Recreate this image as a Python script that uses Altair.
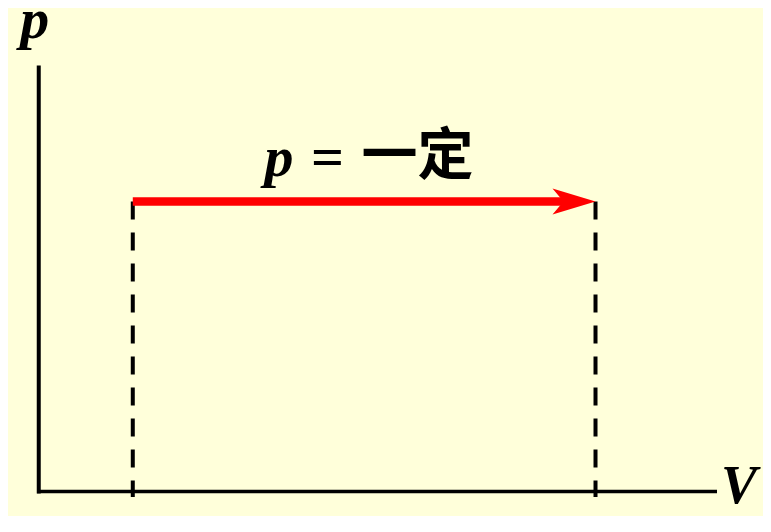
import altair as alt
import pandas as pd

# ---- values (abstract diagram units) ----
axis_x = [0.0, 10.0]          # V axis from origin to end
axis_y = [0.0, 10.0]          # p axis from origin to top
volumes = [1.39, 8.23]        # V1, V2 (dashed verticals)
pressure = [6.84]             # constant p level
dash_bottom = [-0.13]         # dashed lines run slightly past the V axis

label_text = ["p", "V"]
label_x = [-0.06, 10.085]
label_y = [10.70, -0.27]

formula_parts = ["p", "=", "一定"]
formula_x = [3.55, 4.27, 5.60]
formula_y = [7.45, 7.45, 7.49]

BG = "#FFFFDA"
W, H = 755, 508

xs = alt.Scale(domain=axis_x, range=[30.75, 707.25], nice=False, zero=False)
ys = alt.Scale(domain=axis_y, range=[483.5, 59.5], nice=False, zero=False)


def X(field="x"):
    return alt.X(f"{field}:Q", scale=xs, axis=None)


def Y(field="y"):
    return alt.Y(f"{field}:Q", scale=ys, axis=None)


# axes
y_axis_df = pd.DataFrame({"x": [axis_x[0]], "y": [axis_y[0]], "y2": [axis_y[1]]})
x_axis_df = pd.DataFrame({"x": [axis_x[0]], "x2": [axis_x[1]], "y": [axis_y[0]]})

y_axis = alt.Chart(y_axis_df).mark_rule(color="black", strokeWidth=4, strokeCap="square").encode(
    x=X(), y=Y(), y2="y2:Q"
)
x_axis = alt.Chart(x_axis_df).mark_rule(color="black", strokeWidth=3.5, strokeCap="square").encode(
    x=X(), x2="x2:Q", y=Y()
)

# dashed verticals
dash_df = pd.DataFrame({
    "x": volumes,
    "y": pressure * len(volumes),
    "y2": dash_bottom * len(volumes),
})
dashes = alt.Chart(dash_df).mark_rule(
    color="black", strokeWidth=4, strokeDash=[18, 13], strokeCap="butt"
).encode(x=X(), y=Y(), y2="y2:Q")

# red isobaric arrow
arrow_df = pd.DataFrame({"x": [volumes[0]], "x2": [volumes[1]], "y": pressure})
arrow_line = alt.Chart(arrow_df).mark_rule(
    color="#FF0000", strokeWidth=8.5, strokeCap="butt", x2Offset=-28
).encode(x=X(), x2="x2:Q", y=Y())

head_df = pd.DataFrame({"x": [volumes[1]], "y": pressure})
arrow_head = alt.Chart(head_df).mark_point(
    shape="M0,0 L-2,-0.6 L-1.49,0 L-2,0.6 Z",
    size=1849,
    filled=True,
    color="#FF0000",
    opacity=1,
    strokeWidth=0,
).encode(x=X(), y=Y())

# axis labels
lab_df = pd.DataFrame({"t": label_text, "x": label_x, "y": label_y})
lab_p = alt.Chart(lab_df.iloc[[0]]).mark_text(
    font="Liberation Serif", fontSize=58, fontWeight="bold", fontStyle="italic",
    align="center", baseline="alphabetic", color="black"
).encode(x=X(), y=Y(), text="t:N")
lab_v = alt.Chart(lab_df.iloc[[1]]).mark_text(
    font="Liberation Serif", fontSize=54, fontWeight="bold", fontStyle="italic",
    align="left", baseline="alphabetic", color="black"
).encode(x=X(), y=Y(), text="t:N")

# formula  p = 一定
f_df = pd.DataFrame({"t": formula_parts, "x": formula_x, "y": formula_y})
f_p = alt.Chart(f_df.iloc[[0]]).mark_text(
    font="Liberation Serif", fontSize=58, fontWeight="bold", fontStyle="italic",
    align="center", baseline="alphabetic", color="black"
).encode(x=X(), y=Y(), text="t:N")
f_eq = alt.Chart(f_df.iloc[[1]]).mark_text(
    font="Liberation Serif", fontSize=58, fontWeight="bold",
    align="center", baseline="alphabetic", color="black"
).encode(x=X(), y=Y(), text="t:N")
f_cjk = alt.Chart(f_df.iloc[[2]]).mark_text(
    font="Noto Sans CJK SC", fontSize=56, fontWeight="bold",
    align="center", baseline="alphabetic", color="black"
).encode(x=X(), y=Y(), text="t:N")

chart = alt.layer(
    dashes, y_axis, x_axis, arrow_line, arrow_head, lab_p, lab_v, f_p, f_eq, f_cjk
).properties(
    width=W, height=H, autosize=alt.AutoSizeParams(type="none"), padding=0,
    background=BG,
).configure_view(stroke=None)

chart.save("out.html", embed_options={"renderer": "svg", "actions": False})
